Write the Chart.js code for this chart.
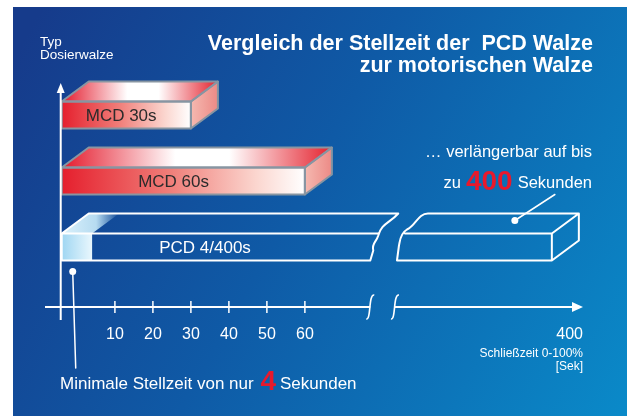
<!DOCTYPE html>
<html>
<head>
<meta charset="utf-8">
<script src="https://cdn.jsdelivr.net/npm/chart.js@4.4.1/dist/chart.umd.min.js"></script>
<style>
  html, body { margin: 0; padding: 0; background: #fff; overflow: hidden; }
</style>
</head>
<body>
<canvas id="chart" width="627" height="416"></canvas>
<script>
// data
const categories = ["MCD 30s", "MCD 60s", "PCD 4/400s"];
const closingTimes = [30, 60, 400];      // seconds, full stroke
const minimumTimes = [null, null, 4];    // PCD can go down to 4 s
const tickValues = [10, 20, 30, 40, 50, 60];
const farTick = 400;

// axis is cut between 80 s and the far end
const ORIGIN = -4;          // where the y axis crosses
const BREAK_AT = 80;
const GAP = [78, 84.5];     // axis units hidden by the cut
const FAR_END = 125;
const toAxis = v => v <= BREAK_AT ? v
  : GAP[1] + (v - BREAK_AT) * (FAR_END - GAP[1]) / (farTick - BREAK_AT);

const FONT = "'Liberation Sans', Arial, Helvetica, sans-serif";
const DX = 27, DY = 20;     // depth of the 3d boxes

function txt(ctx, s, x, y, font, color, align) {
  ctx.font = font;
  ctx.fillStyle = color;
  ctx.textAlign = align || "left";
  ctx.textBaseline = "middle";
  ctx.fillText(s, x, y);
}

const background = {
  id: "background",
  beforeDraw(chart) {
    const ctx = chart.ctx;
    ctx.save();
    ctx.fillStyle = "#fff";
    ctx.fillRect(0, 0, chart.width, chart.height);
    const g = ctx.createLinearGradient(13, 60, 627, 400);
    g.addColorStop(0, "#163b8b");
    g.addColorStop(0.45, "#0f5aa6");
    g.addColorStop(1, "#0a89c8");
    ctx.fillStyle = g;
    ctx.fillRect(13, 7, chart.width - 13, chart.height - 7);
    ctx.restore();
  }
};

function faces(x0, x1, yT, yB) {
  return {
    top: [[x0, yT], [x1, yT], [x1 + DX, yT - DY], [x0 + DX, yT - DY]],
    side: [[x1, yT], [x1 + DX, yT - DY], [x1 + DX, yB - DY], [x1, yB]]
  };
}

function poly(ctx, pts) {
  ctx.beginPath();
  pts.forEach((p, i) => i ? ctx.lineTo(p[0], p[1]) : ctx.moveTo(p[0], p[1]));
  ctx.closePath();
}

function redBox(ctx, x0, x1, yT, yB, label) {
  const f = faces(x0, x1, yT, yB);
  // top
  let g = ctx.createLinearGradient(x0, 0, x1 + DX, 0);
  g.addColorStop(0, "#e4182a");
  g.addColorStop(0.42, "#fff");
  g.addColorStop(0.62, "#fff");
  g.addColorStop(1, "#e4222e");
  poly(ctx, f.top);
  ctx.fillStyle = g;
  ctx.fill();
  // side
  g = ctx.createLinearGradient(x1, 0, x1 + DX, 0);
  g.addColorStop(0, "#f5b9b0");
  g.addColorStop(1, "#ec8a86");
  poly(ctx, f.side);
  ctx.fillStyle = g;
  ctx.fill();
  // front
  g = ctx.createLinearGradient(x0, 0, x1, 0);
  g.addColorStop(0, "#e51f2d");
  g.addColorStop(0.45, "#f07f7a");
  g.addColorStop(0.8, "#fbd6cf");
  g.addColorStop(1, "#fff");
  ctx.fillStyle = g;
  ctx.fillRect(x0, yT, x1 - x0, yB - yT);
  ctx.strokeStyle = "#8795a2";
  ctx.lineWidth = 2;
  ctx.lineJoin = "round";
  poly(ctx, f.top); ctx.stroke();
  poly(ctx, f.side); ctx.stroke();
  ctx.strokeRect(x0, yT, x1 - x0, yB - yT);
  txt(ctx, label, x0 + (x1 - x0) * 0.46, (yT + yB) / 2 + 1, "17px " + FONT, "#2b2b2b", "center");
}

function blueBox(ctx, x0, x1, x2, x3, xMin, yT, yB, label) {
  // light part = minimum time
  let g = ctx.createLinearGradient(x0, 0, xMin, 0);
  g.addColorStop(0, "#9fd6f2");
  g.addColorStop(1, "#e9f7fd");
  ctx.fillStyle = g;
  ctx.fillRect(x0, yT, xMin - x0, yB - yT);
  g = ctx.createLinearGradient(x0, 0, xMin + DX, 0);
  g.addColorStop(0, "rgba(220,242,252,1)");
  g.addColorStop(0.6, "rgba(200,235,250,0.9)");
  g.addColorStop(1, "rgba(200,235,250,0)");
  poly(ctx, [[x0, yT], [xMin, yT], [xMin + DX, yT - DY], [x0 + DX, yT - DY]]);
  ctx.fillStyle = g;
  ctx.fill();

  ctx.strokeStyle = "#fff";
  ctx.lineWidth = 2;
  ctx.lineJoin = "round";
  ctx.lineCap = "round";
  // first piece, broken on the right
  ctx.beginPath();
  ctx.moveTo(x1 - 3, yB);
  ctx.lineTo(x0, yB);
  ctx.lineTo(x0, yT);
  ctx.lineTo(x1 + 5, yT);
  ctx.moveTo(x0, yT);
  ctx.lineTo(x0 + DX, yT - DY);
  ctx.lineTo(x1 + DX - 2, yT - DY);
  ctx.bezierCurveTo(x1 + 16, yT - 10, x1 + 8, yT - 10, x1 + 5, yT + 2);
  ctx.bezierCurveTo(x1 + 3, yT + 9, x1 - 2, yT + 10, x1, yT + 17);
  ctx.lineTo(x1 - 3, yB);
  ctx.stroke();
  // second piece, broken on the left
  ctx.beginPath();
  ctx.moveTo(x2 + DX + 3, yT - DY);
  ctx.lineTo(x3 + DX, yT - DY);
  ctx.lineTo(x3, yT);
  ctx.lineTo(x2 + 7, yT);
  ctx.moveTo(x2 + DX + 3, yT - DY);
  ctx.bezierCurveTo(x2 + 20, yT - DY, x2 + 18, yT - 8, x2 + 9, yT - 4);
  ctx.bezierCurveTo(x2 + 2, yT, x2 + 2, yT + 8, x2 + 1, yT + 12);
  ctx.lineTo(x2 - 1, yB);
  ctx.lineTo(x3, yB);
  ctx.lineTo(x3, yT);
  ctx.moveTo(x3 + DX, yT - DY);
  ctx.lineTo(x3 + DX, yB - DY);
  ctx.lineTo(x3, yB);
  ctx.stroke();
  txt(ctx, label, x0 + (x1 - x0) * 0.46, (yT + yB) / 2 + 1, "17px " + FONT, "#fff", "center");
}

const boxes = {
  id: "boxes",
  afterDatasetsDraw(chart) {
    const ctx = chart.ctx;
    const xs = chart.scales.x;
    const meta = chart.getDatasetMeta(0);
    ctx.save();
    meta.data.forEach((bar, i) => {
      const p = bar.getProps(["x", "y", "base", "height"], true);
      const yT = p.y - p.height / 2, yB = p.y + p.height / 2;
      if (closingTimes[i] > BREAK_AT) {
        blueBox(ctx, p.base, xs.getPixelForValue(GAP[0]), xs.getPixelForValue(GAP[1]), p.x,
          xs.getPixelForValue(minimumTimes[i]), yT, yB, categories[i]);
        // pointers
        const d1x = p.base + 11, d1y = yB + 11;
        ctx.fillStyle = "#fff";
        ctx.beginPath(); ctx.arc(d1x, d1y, 3.5, 0, Math.PI * 2); ctx.fill();
        ctx.strokeStyle = "#fff"; ctx.lineWidth = 1.5;
        ctx.beginPath(); ctx.moveTo(d1x, d1y); ctx.lineTo(d1x + 3, 368); ctx.stroke();
        const d2x = p.x - 37, d2y = yT - 13;
        ctx.beginPath(); ctx.arc(d2x, d2y, 3.5, 0, Math.PI * 2); ctx.fill();
        ctx.beginPath(); ctx.moveTo(d2x, d2y); ctx.lineTo(d2x + 40, d2y - 26); ctx.stroke();
      } else {
        redBox(ctx, p.base, p.x, yT, yB, categories[i]);
      }
    });
    ctx.restore();
  }
};

function squiggle(ctx, x, y) {
  ctx.beginPath();
  ctx.moveTo(x - 4, y + 12);
  ctx.bezierCurveTo(x + 1, y + 13, x - 2, y - 13, x + 4, y - 12);
  ctx.stroke();
}

const axes = {
  id: "axes",
  afterDraw(chart) {
    const ctx = chart.ctx;
    const xs = chart.scales.x, a = chart.chartArea;
    const ax = xs.getPixelForValue(ORIGIN) - 1;
    const ay = a.bottom + 27;
    ctx.save();
    ctx.strokeStyle = "#fff";
    ctx.fillStyle = "#fff";
    ctx.lineWidth = 2;
    ctx.lineCap = "butt";
    // y axis
    ctx.beginPath(); ctx.moveTo(ax, a.top + 8); ctx.lineTo(ax, ay + 13); ctx.stroke();
    ctx.beginPath(); ctx.moveTo(ax, a.top + 1); ctx.lineTo(ax - 4, a.top + 11); ctx.lineTo(ax + 4, a.top + 11); ctx.closePath(); ctx.fill();
    // x axis, with the cut
    const c0 = xs.getPixelForValue(GAP[0]) - 3, c1 = xs.getPixelForValue(GAP[1]) - 3;
    ctx.beginPath();
    ctx.moveTo(a.left, ay); ctx.lineTo(c0, ay);
    ctx.moveTo(c1, ay); ctx.lineTo(a.right - 8, ay);
    ctx.stroke();
    ctx.lineWidth = 1.6;
    squiggle(ctx, c0, ay);
    squiggle(ctx, c1, ay);
    ctx.beginPath(); ctx.moveTo(a.right, ay); ctx.lineTo(a.right - 11, ay - 5); ctx.lineTo(a.right - 11, ay + 5); ctx.closePath(); ctx.fill();
    ctx.lineWidth = 1.5;
    tickValues.forEach(v => {
      const x = xs.getPixelForValue(toAxis(v));
      ctx.beginPath(); ctx.moveTo(x, ay - 6); ctx.lineTo(x, ay + 6); ctx.stroke();
      txt(ctx, String(v), x, ay + 28, "16px " + FONT, "#fff", "center");
    });
    txt(ctx, String(farTick), a.right, ay + 28, "16px " + FONT, "#fff", "right");
    txt(ctx, "Schließzeit 0-100%", a.right, ay + 47, "12px " + FONT, "#fff", "right");
    txt(ctx, "[Sek]", a.right, ay + 60, "12px " + FONT, "#fff", "right");

    // axis name
    txt(ctx, "Typ", 40, 42, "13.5px " + FONT, "#fff");
    txt(ctx, "Dosierwalze", 40, 55, "13.5px " + FONT, "#fff");

    // title
    txt(ctx, "Vergleich der Stellzeit der  PCD Walze", 593, 44, "bold 21.5px " + FONT, "#fff", "right");
    txt(ctx, "zur motorischen Walze", 593, 66, "bold 21.5px " + FONT, "#fff", "right");

    // notes
    txt(ctx, "… verlängerbar auf bis", 592, 152, "16.5px " + FONT, "#fff", "right");
    ctx.font = "16.5px " + FONT;
    let x = 592 - ctx.measureText("Sekunden").width;
    txt(ctx, "Sekunden", 592, 183, "16.5px " + FONT, "#fff", "right");
    x -= 5;
    txt(ctx, String(farTick), x, 182, "bold 28px " + FONT, "#e8192c", "right");
    ctx.font = "bold 28px " + FONT;
    x -= ctx.measureText(String(farTick)).width + 5;
    txt(ctx, "zu", x, 183, "16.5px " + FONT, "#fff", "right");

    const minT = minimumTimes.find(v => v != null);
    let s = "Minimale Stellzeit von nur ";
    txt(ctx, s, 60, 384, "17px " + FONT, "#fff");
    ctx.font = "17px " + FONT;
    x = 60 + ctx.measureText(s).width + 2;
    txt(ctx, String(minT), x, 382, "bold 28px " + FONT, "#e8192c");
    ctx.font = "bold 28px " + FONT;
    x += ctx.measureText(String(minT)).width + 4;
    txt(ctx, "Sekunden", x, 384, "17px " + FONT, "#fff");
    ctx.restore();
  }
};

new Chart(document.getElementById("chart"), {
  type: "bar",
  data: {
    labels: categories,
    datasets: [{
      data: closingTimes.map(v => [ORIGIN, toAxis(v)]),
      backgroundColor: "rgba(0,0,0,0)",
      borderWidth: 0,
      barThickness: 27
    }]
  },
  options: {
    indexAxis: "y",
    responsive: false,
    animation: false,
    layout: { padding: { left: 45, right: 44, top: 82, bottom: 136 } },
    scales: {
      x: { type: "linear", min: -8.4, max: 133.2, display: false },
      y: { display: false }
    },
    plugins: { legend: { display: false }, tooltip: { enabled: false } }
  },
  plugins: [background, boxes, axes]
});
</script>
</body>
</html>
